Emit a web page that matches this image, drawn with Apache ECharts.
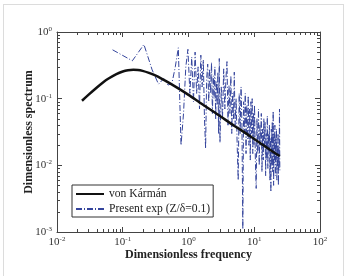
<!DOCTYPE html>
<html lang="en">
<head>
<meta charset="UTF-8">
<title>Dimensionless spectrum</title>
<style>
  html, body { margin: 0; padding: 0; background: #fff; }
  #frame { position: absolute; left: 3px; top: 4px; width: 339px; height: 290px; border: 1px solid #dcdcdc; }
  #main { position: absolute; left: 0; top: 0; width: 347px; height: 276px; }
</style>
</head>
<body>
<div id="frame"></div>
<div id="main"></div>
<script src="https://cdn.jsdelivr.net/npm/echarts@6/dist/echarts.min.js"></script>
<script>
// von Karman curve
var karmanFreq = [0.024, 0.03, 0.04, 0.05, 0.06, 0.08, 0.1, 0.12, 0.145, 0.17, 0.2, 0.25, 0.3, 0.4, 0.5, 0.7,
    1, 1.5, 2, 3, 5, 7, 10, 15, 20, 24.5];
var karmanSpec = [0.093, 0.114, 0.146, 0.175, 0.199, 0.234, 0.256, 0.267, 0.271, 0.269, 0.261, 0.244, 0.227, 0.197, 0.174, 0.1425,
    0.114, 0.087, 0.072, 0.055, 0.039, 0.0315, 0.0248, 0.0189, 0.0156, 0.0138];

// measured spectrum (Z/delta = 0.1)
var expFreq = [
    0.07, 0.14, 0.21, 0.28, 0.35, 0.42, 0.49, 0.56, 0.63, 0.70, 0.77, 0.84, 0.91, 0.98,
    1.05, 1.12, 1.19, 1.26, 1.33, 1.40, 1.47, 1.54, 1.61, 1.68, 1.75, 1.82, 1.89, 1.96, 2.03,
    2.10, 2.17, 2.24, 2.31, 2.38, 2.45, 2.52, 2.59, 2.66, 2.73, 2.80, 2.87, 2.94, 3.01,
    3.15, 3.29, 3.43, 3.57, 3.71, 3.85, 3.99, 4.13, 4.27, 4.41, 4.55, 4.69, 4.83, 4.97, 5.11,
    5.3, 5.5, 5.7, 5.9, 6.1, 6.3, 6.5, 6.7, 6.9, 7.1, 7.3, 7.5, 7.7, 7.9, 8.1, 8.3, 8.5, 8.7, 8.9,
    9.1, 9.3, 9.5, 9.7, 9.9, 10.1,
    10.4, 10.7, 11.0, 11.3, 11.6, 11.9, 12.2, 12.5, 12.8, 13.1, 13.4, 13.7, 14.0, 14.3, 14.6, 14.9,
    15.2, 15.5, 15.8, 16.1, 16.4, 16.7, 17.0, 17.3, 17.6, 17.9, 18.2, 18.5, 18.8, 19.1, 19.4, 19.7,
    20.0, 20.3, 20.6, 20.9, 21.2, 21.5, 21.8, 22.1, 22.4, 22.7, 23.0, 23.3, 23.6, 23.9, 24.2, 24.5
];
var expSpec = [
    0.54, 0.37, 0.65, 0.27, 0.165, 0.20, 0.16, 0.17, 0.30, 0.58, 0.02, 0.06, 0.30, 0.55,
    0.12, 0.42, 0.09, 0.50, 0.12, 0.30, 0.07, 0.45, 0.15, 0.38, 0.05, 0.018, 0.20, 0.33, 0.09,
    0.28, 0.12, 0.35, 0.06, 0.22, 0.10, 0.30, 0.05, 0.18, 0.08, 0.25, 0.03, 0.40, 0.022,
    0.15, 0.05, 0.28, 0.07, 0.20, 0.36, 0.04, 0.16, 0.06, 0.22, 0.03, 0.12, 0.05, 0.25, 0.04,
    0.10, 0.02, 0.006, 0.12, 0.03, 0.15, 0.04, 0.0011, 0.09, 0.03, 0.12, 0.015, 0.08, 0.025, 0.11, 0.02, 0.07, 0.012, 0.09,
    0.03, 0.10, 0.015, 0.06, 0.02, 0.08,
    0.012, 0.0045, 0.05, 0.015, 0.07, 0.01, 0.04, 0.02, 0.06, 0.008, 0.035, 0.012, 0.05, 0.02, 0.045, 0.007,
    0.03, 0.012, 0.055, 0.009, 0.03, 0.015, 0.04, 0.006, 0.025, 0.004, 0.035, 0.01, 0.045, 0.008, 0.065, 0.005,
    0.03, 0.011, 0.04, 0.007, 0.025, 0.012, 0.035, 0.006, 0.02, 0.009, 0.03, 0.005, 0.018, 0.009, 0.07, 0.008
];

var xRange = [0.01, 100];
var yRange = [0.001, 1];
var seriesNames = ['von Kármán', 'Present exp (Z/δ=0.1)'];

var serif = '"Liberation Serif", "DejaVu Serif", serif';
var axisColor = '#444';

function zip(a, b) {
    var out = [];
    for (var i = 0; i < a.length; i++) out.push([a[i], b[i]]);
    return out;
}

function powLabel(v) {
    var e = Math.round(Math.log(v) / Math.LN10);
    return '{b|10}{s|' + e + '}';
}

var labelRich = {
    b: { fontFamily: serif, fontSize: 11, color: '#333', lineHeight: 13 },
    s: { fontFamily: serif, fontSize: 7, color: '#333', verticalAlign: 'top', lineHeight: 8 }
};

function logAxis(range, pos, main) {
    return {
        type: 'log',
        logBase: 10,
        min: range[0],
        max: range[1],
        position: pos,
        axisLine: { show: true, onZero: false, lineStyle: { color: axisColor, width: 1 } },
        axisTick: { show: true, inside: true, length: 5, lineStyle: { color: axisColor } },
        axisLabel: { show: main, formatter: powLabel, rich: labelRich, margin: 4 },
        splitLine: { show: false },
        minorTick: { show: false }
    };
}

var xMain = logAxis(xRange, 'bottom', true);
xMain.name = 'Dimensionless frequency';
xMain.nameLocation = 'middle';
xMain.nameGap = 17;
xMain.nameMoveOverlap = false;
xMain.nameTextStyle = { fontFamily: serif, fontSize: 12, fontWeight: 'bold', color: '#222' };

var yMain = logAxis(yRange, 'left', true);
yMain.axisLabel.margin = 5;
yMain.name = 'Dimensionless spectrum';
yMain.nameLocation = 'middle';
yMain.nameGap = 22;
yMain.nameMoveOverlap = false;
yMain.nameTextStyle = { fontFamily: serif, fontSize: 12, fontWeight: 'bold', color: '#222' };

var option = {
    animation: false,
    backgroundColor: 'transparent',
    grid: { left: 57, top: 32, width: 263, height: 200, containLabel: false, outerBoundsMode: 'none' },
    xAxis: [xMain, logAxis(xRange, 'top', false)],
    yAxis: [yMain, logAxis(yRange, 'right', false)],
    legend: {
        data: seriesNames,
        orient: 'vertical',
        left: 72,
        top: 185,
        padding: [3, 3, 2, 3],
        itemGap: 3,
        itemWidth: 28,
        itemHeight: 12,
        itemStyle: { opacity: 0 },
        backgroundColor: '#fff',
        borderColor: '#333',
        borderWidth: 1,
        borderRadius: 0,
        textStyle: { fontFamily: serif, fontSize: 11.6, color: '#222' }
    },
    series: [
        {
            name: seriesNames[1],
            type: 'line',
            data: zip(expFreq, expSpec),
            showSymbol: false,
            symbol: 'none',
            z: 2,
            lineStyle: { color: '#34449c', width: 1, type: [6, 2, 1, 2] },
            itemStyle: { color: '#34449c' }
        },
        {
            name: seriesNames[0],
            type: 'line',
            data: zip(karmanFreq, karmanSpec),
            showSymbol: false,
            symbol: 'none',
            smooth: 0.3,
            z: 3,
            lineStyle: { color: '#111', width: 2.5 },
            itemStyle: { color: '#111' }
        }
    ]
};

var myChart = echarts.init(document.getElementById('main'), null, { renderer: 'canvas' });
myChart.setOption(option);

// minor ticks (2..9 in every decade) on all four sides of the box
function minorTicks() {
    var els = [];
    var x0 = myChart.convertToPixel({ xAxisIndex: 0 }, xRange[0]);
    var x1 = myChart.convertToPixel({ xAxisIndex: 0 }, xRange[1]);
    var yTop = myChart.convertToPixel({ yAxisIndex: 0 }, yRange[1]);
    var yBot = myChart.convertToPixel({ yAxisIndex: 0 }, yRange[0]);
    var len = 3;
    var st = { stroke: axisColor, lineWidth: 1 };
    for (var d = xRange[0]; d < xRange[1]; d *= 10) {
        for (var k = 2; k <= 9; k++) {
            var px = Math.round(myChart.convertToPixel({ xAxisIndex: 0 }, d * k)) + 0.5;
            els.push({ type: 'line', silent: true, shape: { x1: px, y1: yBot, x2: px, y2: yBot - len }, style: st });
            els.push({ type: 'line', silent: true, shape: { x1: px, y1: yTop, x2: px, y2: yTop + len }, style: st });
        }
    }
    for (var e = yRange[0]; e < yRange[1]; e *= 10) {
        for (var m = 2; m <= 9; m++) {
            var py = Math.round(myChart.convertToPixel({ yAxisIndex: 0 }, e * m)) + 0.5;
            els.push({ type: 'line', silent: true, shape: { x1: x0, y1: py, x2: x0 + len, y2: py }, style: st });
            els.push({ type: 'line', silent: true, shape: { x1: x1, y1: py, x2: x1 - len, y2: py }, style: st });
        }
    }
    return els;
}

myChart.setOption({ graphic: { elements: minorTicks() } });

window.onresize = function () {
    myChart.resize();
};
</script>
</body>
</html>
